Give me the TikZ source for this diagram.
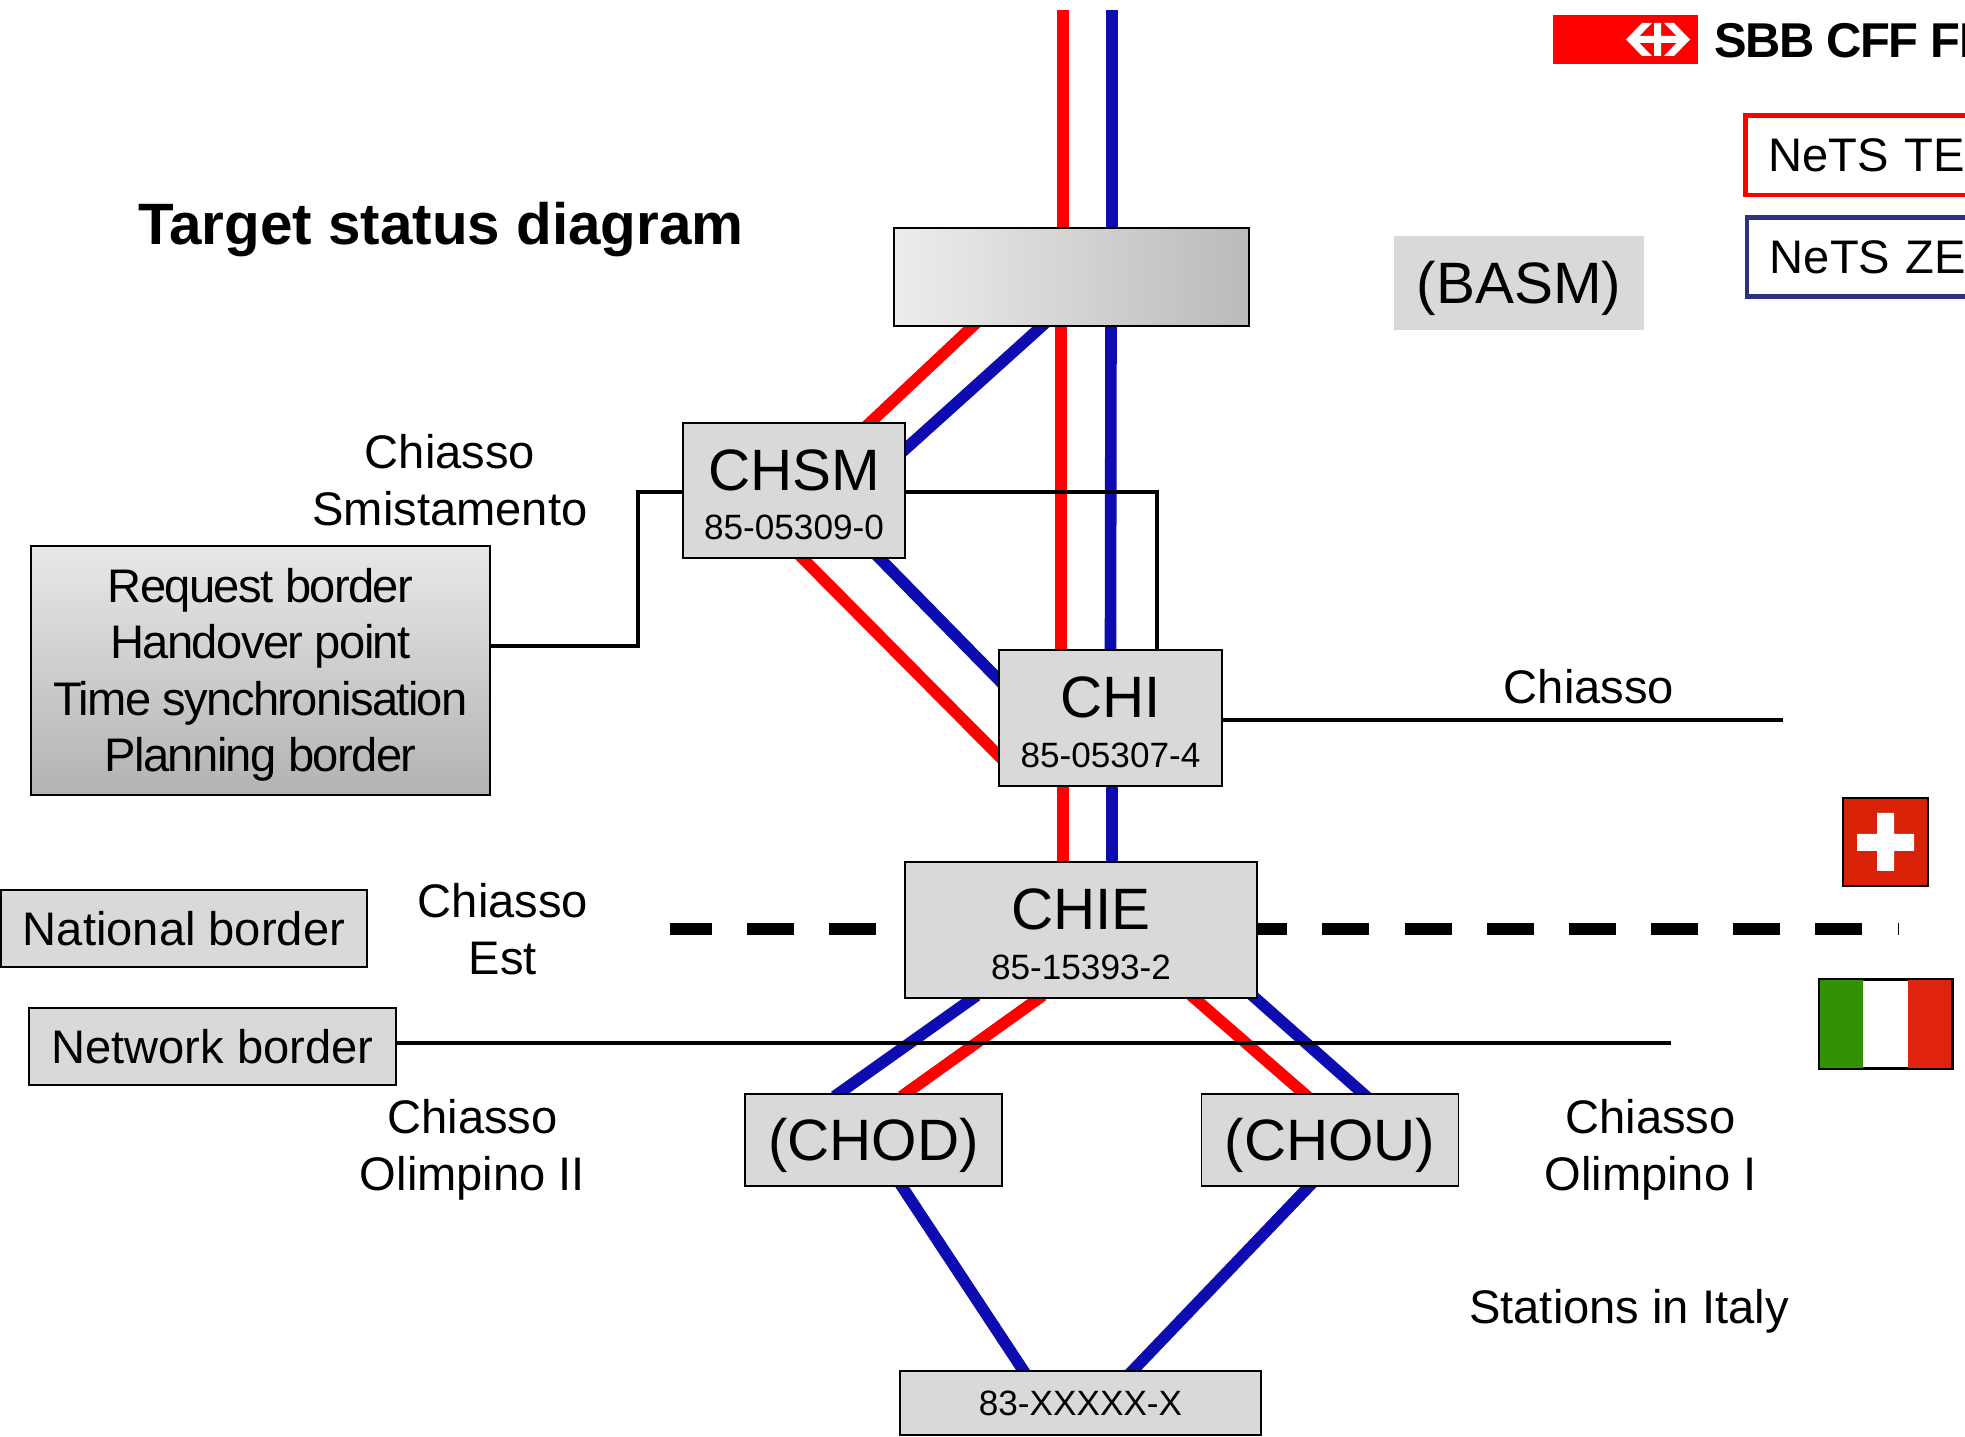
\documentclass[tikz,border=0pt]{standalone}
\usepackage{fontspec}
\setmainfont{Liberation Sans}
\usetikzlibrary{backgrounds}

\definecolor{boxgrey}{HTML}{D9D9D9}
\definecolor{tenred}{HTML}{FF0000}
\definecolor{zebblue}{HTML}{0C0CB0}
\definecolor{legendblue}{HTML}{2E3180}
\definecolor{chred}{HTML}{D92108}
\definecolor{itgreen}{HTML}{339103}
\definecolor{itred}{HTML}{E0230F}

\newcommand{\bigfont}{\fontsize{16.6}{16}\selectfont}
\newcommand{\midfont}{\fontsize{13.4}{16.05}\selectfont}
\newcommand{\numfont}{\fontsize{10}{16}\selectfont}
\newcommand{\stnlabel}[2]{{\bigfont\rule{0pt}{14.1pt}#1}\\[2pt]{\numfont #2}}

\begin{document}
\begin{tikzpicture}[x=0.01cm,y=-0.01cm,semithick]
        \tikzstyle{every node}=[inner sep=0pt,text=black]
        \tikzstyle{station}=[draw=black,line width=0.45pt,fill=boxgrey,align=center]
        \tikzstyle{legendbox}=[draw=black,line width=0.45pt,fill=boxgrey,align=center,font=\midfont]
        \tikzstyle{label}=[align=center,font=\midfont]
        \tikzstyle{netsline}=[line width=3.3pt,line cap=rect]
        \tikzstyle{ten}=[netsline,draw=tenred]
        \tikzstyle{zeb}=[netsline,draw=zebblue]
        \tikzstyle{wire}=[draw=black,line width=1.35pt]
        \tikzstyle{netsbox}=[anchor=north west,line width=1.3pt,fill=white,minimum width=3cm,minimum height=0.79cm,
                             font=\midfont,text width=2.54cm,align=left]

        \useasboundingbox (0,0) rectangle (1965,1437);

        % stations
        \node[station,minimum width=3.55cm,minimum height=0.98cm,left color=gray!14,right color=gray!54] (hdr) at (1071.5,277) {};
        \node[station,minimum width=2.22cm,minimum height=1.35cm] (chsm) at (794,490.5) {\stnlabel{CHSM}{85-05309-0}};
        \node[station,minimum width=2.23cm,minimum height=1.36cm] (chi)  at (1110.5,718) {\stnlabel{CHI}{85-05307-4}};
        \node[station,minimum width=3.52cm,minimum height=1.36cm] (chie) at (1081,930) {\stnlabel{CHIE}{85-15393-2}};
        \node[station,minimum width=2.57cm,minimum height=0.92cm,font=\bigfont] (chod) at (873.5,1140) {\rule{0pt}{15.2pt}(CHOD)};
        \node[station,minimum width=2.57cm,minimum height=0.92cm,font=\bigfont] (chou) at (1330,1140) {\rule{0pt}{15.2pt}(CHOU)};
        \node[station,minimum width=3.61cm,minimum height=0.64cm,font=\numfont] (ita)  at (1080.5,1403) {83-XXXXX-X};
        \node[fill=boxgrey,minimum width=2.5cm,minimum height=0.94cm,font=\bigfont] (basm) at (1519,283) {\rule{0pt}{15.2pt}(BASM)};

        % borders on the left
        \node[legendbox,minimum width=4.59cm,minimum height=2.49cm,top color=gray!18,bottom color=gray!60,
              font=\midfont\addfontfeature{LetterSpace=-3.4}] (info) at (260.5,670.5)
             {\rule{0pt}{12.2pt}Request border\\Handover point\\Time synchronisation\\Planning border};
        \node[legendbox,minimum width=3.66cm,minimum height=0.77cm] (natb) at (184,928.5) {National border};
        \node[legendbox,minimum width=3.67cm,minimum height=0.77cm] (netb) at (212.5,1046.5) {Network border};

        % texts
        \node[font=\fontsize{16.6}{16}\selectfont\bfseries,anchor=west] (title) at (137,230) {Target status diagram};
        \node[label] (lchsm) at (450,480) {Chiasso\\Smistamento};
        \node[label] (lchi)  at (1589,687) {Chiasso};
        \node[label] (lchie) at (503,929) {Chiasso\\Est};
        \node[label] (lchod) at (472.5,1150) {Chiasso\\Olimpino II};
        \node[label] (lchou) at (1650.5,1150) {Chiasso\\Olimpino I};
        \node[label] (lita)  at (1629,1311) {Stations in Italy};

        % logo and legend
        \node[fill=tenred,minimum width=1.45cm,minimum height=0.49cm] (logo) at (1625.5,39.5) {};
        \fill[white] (1636,36) rectangle (1680,43) (1654,23) rectangle (1661,56);
        \fill[white] (1626,39.5) -- (1642,23) -- (1652,23) -- (1636,39.5) -- (1652,56) -- (1642,56) -- cycle;
        \fill[white] (1690,39.5) -- (1674,23) -- (1664,23) -- (1680,39.5) -- (1664,56) -- (1674,56) -- cycle;
        \node[font=\fontsize{13.9}{16}\selectfont\bfseries\addfontfeature{LetterSpace=-3},anchor=west] (sbb) at (1713,41) {SBB CFF FF};
        \node[netsbox,draw=tenred] (nten) at (1743,113.5) {NeTS TE};
        \node[netsbox,draw=legendblue] (nzeb) at (1744.5,215) {NeTS ZE};

        % flags
        \node[draw=black,line width=0.7pt,fill=chred,minimum width=0.85cm,minimum height=0.88cm] (flagch) at (1885.5,842) {};
        \fill[white] (1877,813) rectangle (1894,871) (1857,834) rectangle (1914,851);
        \node[draw=black,line width=0.7pt,minimum width=1.31cm,minimum height=0.88cm] (flagit) at (1885.5,1024) {};
        \fill[itgreen] (flagit.north west) rectangle (1863,1068);
        \fill[itred] (1908,980) rectangle (flagit.south east);
        \draw[black,line width=0.7pt] (flagit.north west) rectangle (flagit.south east);

        \coordinate (tentop) at (1063,16);
        \coordinate (zebtop) at (1112,16);
        \coordinate (dashl) at (670,929);
        \coordinate (dashr) at (1899,929);
        \coordinate (chiend) at (1783,720);
        \coordinate (netend) at (1671,1043);
        \coordinate (wirel) at (638,492);
        \coordinate (wirer) at (1157,492);

        \begin{scope}[on background layer]
        \path[ten] (tentop) edge ([shift={(-8.5,0)}]hdr.north)
                   ([shift={(-10.5,0)}]hdr.south) edge ([shift={(-49.5,0)}]chi.north)
                   ([shift={(-47.5,0)}]chi.south) edge ([shift={(-18,0)}]chie.north)
                   ([shift={(79,0)}]hdr.south west) edge ([shift={(188.5,0)}]chsm.north west)
                   ([shift={(121,0)}]chsm.south west) edge ([shift={(0,106)}]chi.north west)
                   ([shift={(134,0)}]chie.south west) edge ([shift={(162,0)}]chod.north west)
                   ([shift={(291,0)}]chie.south west) edge ([shift={(103,0)}]chou.north west);
        \path[zeb] (zebtop) edge ([shift={(40.5,0)}]hdr.north)
                   ([shift={(39.5,0)}]hdr.south) edge ([shift={(0,0)}]chi.north)
                   ([shift={(1.5,0)}]chi.south) edge ([shift={(31,0)}]chie.north)
                   ([shift={(148,0)}]hdr.south west) edge ([shift={(0,26.5)}]chsm.north east)
                   ([shift={(198,0)}]chsm.south west) edge ([shift={(0,30)}]chi.north west)
                   ([shift={(68,0)}]chie.south west) edge ([shift={(95,0)}]chod.north west)
                   ([shift={(352,0)}]chie.south west) edge ([shift={(162,0)}]chou.north west)
                   ([shift={(158,0)}]chod.south west) edge ([shift={(124,0)}]ita.north west)
                   ([shift={(108,0)}]chou.south west) edge ([shift={(234,0)}]ita.north west);
        \draw[line width=3.4pt,dash pattern=on 13.37pt off 10pt,dash phase=1.45pt] (dashl) -- (dashr);
        \draw[wire] (info.east |- 0,646) -- (wirel |- 0,646) -- (wirel) -- (chsm.west |- wirel);
        \draw[wire] (chsm.east |- wirer) -- (wirer) -- (wirer |- chi.north);
        \draw[draw=black,line width=1pt] (chi.east |- chiend) -- (chiend);
        \draw[draw=black,line width=1pt] (netb.east |- netend) -- (netend);
        \end{scope}
      \end{tikzpicture}
\end{document}
